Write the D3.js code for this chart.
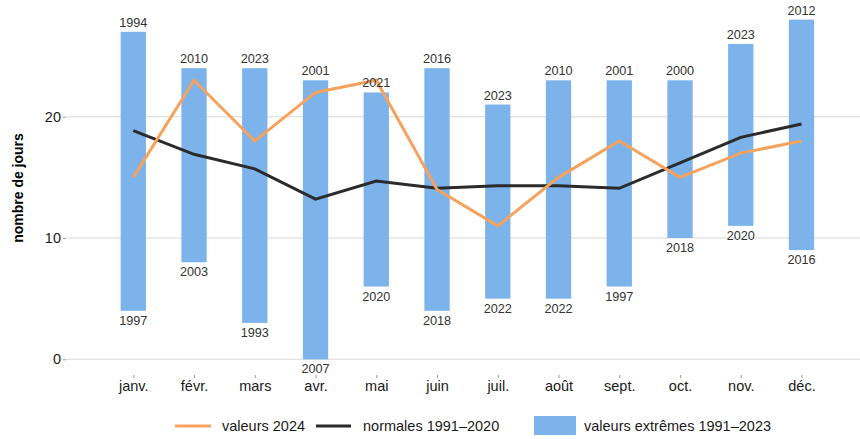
<!DOCTYPE html>
<html lang="fr">
<head>
<meta charset="utf-8">
<title>nombre de jours</title>
<script src="https://d3js.org/d3.v7.min.js"></script>
<style>
  body { margin: 0; background: #fff; }
  svg { font-family: "Liberation Sans", Arial, sans-serif; }
  .grid line { stroke: #d9d9d9; stroke-width: 1.1; }
  .yr { fill: #333; font-size: 12.7px; text-anchor: middle; }
  .tick text { fill: #1a1a1a; font-size: 14.5px; }
  .tick line { stroke: #999; }
  .leg text { fill: #1a1a1a; font-size: 14.5px; }
</style>
</head>
<body>
<svg id="chart" width="860" height="439"></svg>
<script>
// mois
var months = ["janv.", "févr.", "mars", "avr.", "mai", "juin", "juil.", "août", "sept.", "oct.", "nov.", "déc."];
// valeurs extrêmes 1991-2023
var maxVals  = [27, 24, 24, 23, 22, 24, 21, 23, 23, 23, 26, 28];
var maxYears = ["1994", "2010", "2023", "2001", "2021", "2016", "2023", "2010", "2001", "2000", "2023", "2012"];
var minVals  = [4, 8, 3, 0, 6, 4, 5, 5, 6, 10, 11, 9];
var minYears = ["1997", "2003", "1993", "2007", "2020", "2018", "2022", "2022", "1997", "2018", "2020", "2016"];
// valeurs 2024
var vals2024 = [15, 23, 18, 22, 23, 14, 11, 15, 18, 15, 17, 18];
// normales 1991-2020
var normales = [18.85, 16.9, 15.7, 13.2, 14.7, 14.1, 14.3, 14.3, 14.1, 16.2, 18.3, 19.4];
var yTicks = [0, 10, 20];

var svg = d3.select("#chart");
var left = 66, right = 860;

var x = d3.scalePoint().domain(months).range([133.3, 801.5]);
var y = d3.scaleLinear().domain([0, 20]).range([359.3, 116.7]);
var barW = 25.3;

// grille
svg.append("g").attr("class", "grid")
  .selectAll("line").data(yTicks).enter().append("line")
  .attr("x1", left).attr("x2", right)
  .attr("y1", function(d) { return y(d); })
  .attr("y2", function(d) { return y(d); });

// axe y
var yAxis = svg.append("g")
  .attr("transform", "translate(" + left + ",0)")
  .call(d3.axisLeft(y).tickValues(yTicks).tickSize(3).tickPadding(2));
yAxis.select(".domain").remove();

// axe x
var xAxis = svg.append("g")
  .attr("transform", "translate(0,375)")
  .call(d3.axisBottom(x).tickSize(3).tickPadding(3));
xAxis.select(".domain").remove();

svg.append("text")
  .attr("transform", "translate(23,188) rotate(-90)")
  .attr("text-anchor", "middle")
  .style("font-size", "14px").style("font-weight", "bold").style("fill", "#000")
  .text("nombre de jours");

// barres
var idx = d3.range(months.length);
svg.append("g").selectAll("rect").data(idx).enter().append("rect")
  .attr("x", function(i) { return x(months[i]) - barW / 2; })
  .attr("y", function(i) { return y(maxVals[i]); })
  .attr("width", barW)
  .attr("height", function(i) { return y(minVals[i]) - y(maxVals[i]); })
  .attr("fill", "#7bb3ea");

// lignes
var line = function(arr) {
  return d3.line()
    .x(function(i) { return x(months[i]); })
    .y(function(i) { return y(arr[i]); })(idx);
};
svg.append("path").attr("d", line(normales))
  .attr("fill", "none").attr("stroke", "#2b2b2b").attr("stroke-width", 3);
svg.append("path").attr("d", line(vals2024))
  .attr("fill", "none").attr("stroke", "#f6a25d").attr("stroke-width", 3);

// étiquettes années
svg.append("g").selectAll("text").data(idx).enter().append("text")
  .attr("class", "yr")
  .attr("x", function(i) { return x(months[i]); })
  .attr("y", function(i) { return y(maxVals[i]) - 5; })
  .text(function(i) { return maxYears[i]; });
svg.append("g").selectAll("text").data(idx).enter().append("text")
  .attr("class", "yr")
  .attr("x", function(i) { return x(months[i]); })
  .attr("y", function(i) { return y(minVals[i]) + 14; })
  .text(function(i) { return minYears[i]; });

// légende
var leg = svg.append("g").attr("class", "leg");
leg.append("line").attr("x1", 175).attr("x2", 211).attr("y1", 426).attr("y2", 426)
  .attr("stroke", "#f6a25d").attr("stroke-width", 3);
leg.append("text").attr("x", 222).attr("y", 431).text("valeurs 2024");
leg.append("line").attr("x1", 316).attr("x2", 351).attr("y1", 426).attr("y2", 426)
  .attr("stroke", "#2b2b2b").attr("stroke-width", 3);
leg.append("text").attr("x", 363).attr("y", 431).text("normales 1991\u20132020");
leg.append("rect").attr("x", 534).attr("y", 416).attr("width", 42).attr("height", 19)
  .attr("fill", "#7bb3ea");
leg.append("text").attr("x", 584).attr("y", 431).text("valeurs extrêmes 1991\u20132023");
</script>
</body>
</html>
